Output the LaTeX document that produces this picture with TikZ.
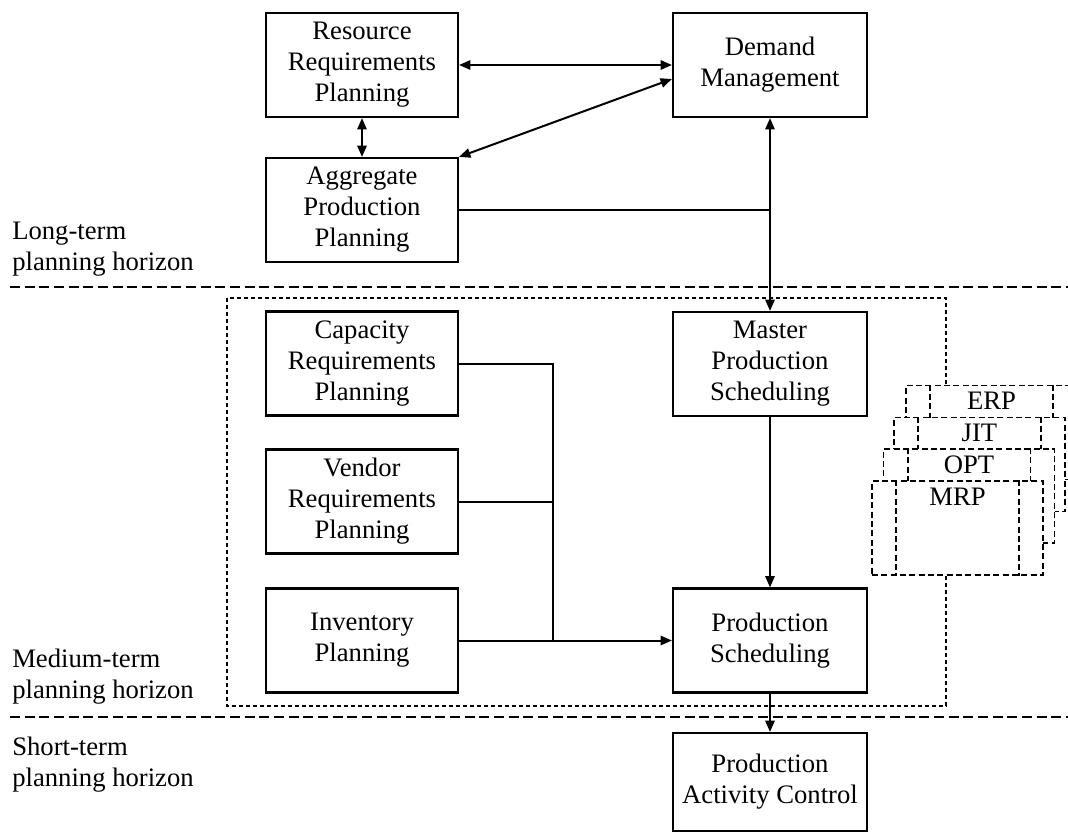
\documentclass[tikz,border=0pt]{standalone}
\usepackage{fontspec}
\setmainfont{Liberation Serif}
\usetikzlibrary{arrows.meta,calc}
\begin{document}
\begin{tikzpicture}[x=0.75pt,y=-0.75pt,
  every node/.style={font=\fontsize{20pt}{23.25pt}\selectfont},
  blk/.style={draw,line width=1.6pt,minimum width=144pt,minimum height=78pt,align=center,inner sep=0pt},
  blkr/.style={blk,minimum width=145.5pt},
  conn/.style={line width=1.5pt,>={Triangle[length=8.5pt,width=7pt]}},
  hdash/.style={line width=1.5pt,dash pattern=on 7.5pt off 3.5pt},
  dotr/.style={line width=1.4pt,dash pattern=on 3pt off 2.25pt},
  stk/.style={draw,fill=white,line width=1.4pt,dash pattern=on 4.5pt off 2.5pt,minimum width=128.25pt,minimum height=70.5pt,inner sep=0pt},
  stkl/.style={line width=1.4pt,dash pattern=on 4.5pt off 2.5pt},
  lbl/.style={anchor=west,align=left,inner sep=0pt}]
\fill[white] (0,0) rectangle (1068,832);
\useasboundingbox (0,0) rectangle (1068,832);
\clip (0,0) rectangle (1068,832);

% boxes
\node[blk] (rrp) at (362,65) {Resource\\Requirements\\Planning};
\node[blk] (app) at (362,210) {Aggregate\\Production\\Planning};
\node[blk] (crp) at (362,363.5) {Capacity\\Requirements\\Planning};
\node[blk] (vrp) at (362,501.5) {Vendor\\Requirements\\Planning};
\node[blk] (ip) at (362,640.5) {Inventory\\Planning};
\node[blkr] (dm) at (770,65) {Demand\\Management};
\node[blkr] (mps) at (770,364) {Master\\Production\\Scheduling};
\node[blkr] (ps) at (770,640.5) {Production\\Scheduling};
\node[blkr,minimum height=73.5pt] (pac) at (770,782) {Production\\Activity Control};

% horizon labels
\node[lbl] (lt) at (12,249) {Long-term\\planning horizon};
\node[lbl] (mt) at (12,676.5) {Medium-term\\planning horizon};
\node[lbl] (st) at (12,765) {Short-term\\planning horizon};

% horizon lines and medium-term frame
\draw[hdash] (10,287) -- (1068,287);
\draw[hdash] (10,717) -- (1068,717);
\draw[dotr] (227,298) rectangle (946,706);

% connectors
\draw[conn,<->] (rrp.east) -- (dm.west);
\draw[conn,<->] ([yshift=-10.5pt]dm.west) -- (app.north east);
\draw[conn,<->] (rrp.south) -- (app.north);
\draw[conn,<->] (dm.south) -- (mps.north);
\draw[conn] (app.east) -- (app.east -| dm.south);
\coordinate (j) at (553,640.5);
\draw[conn] (crp.east) -| (j);
\draw[conn] (vrp.east) -- (vrp.east -| j);
\draw[conn,->] (ip.east) -- (ps.west);
\draw[conn,->] (mps.south) -- (ps.north);
\draw[conn,->] (ps.south) -- (pac.north);

% stacked approaches
\foreach \cx/\cy/\lab in {991.5/432.5/ERP, 979.5/464.5/JIT, 969/496/OPT, 957.5/528/MRP}{
  \node[stk] (\lab) at (\cx,\cy) {};
  \draw[stkl] ([xshift=18.75pt]\lab.north west) -- ([xshift=18.75pt]\lab.south west);
  \draw[stkl] ([xshift=-18.75pt]\lab.north east) -- ([xshift=-18.75pt]\lab.south east);
  \node[anchor=base,inner sep=0pt] (\lab-t) at ([yshift=-18.75pt]\lab.north) {\lab};
}
\end{tikzpicture}
\end{document}
